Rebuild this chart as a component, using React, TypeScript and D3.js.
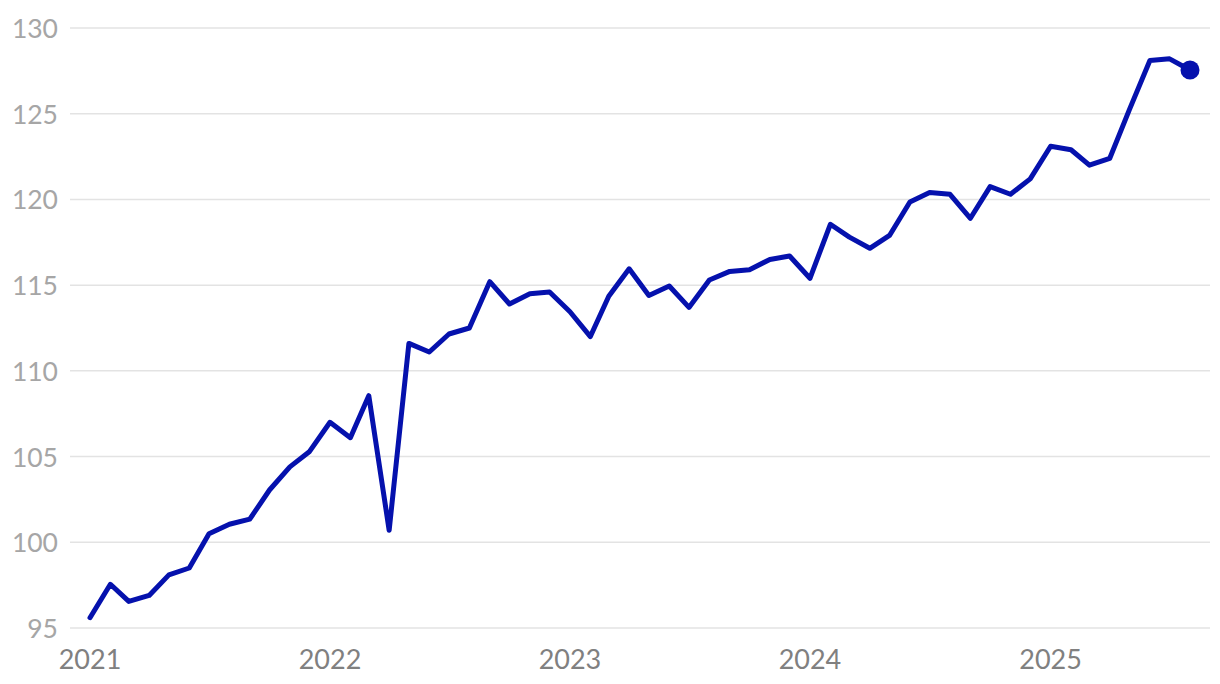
import React from "react";
import * as d3 from "d3";

const startMonth = "2021-01";
const values: number[] = [
  95.6, 97.55, 96.55, 96.9, 98.1, 98.5, 100.5, 101.05, 101.35, 103.05, 104.4, 105.3,
  107.0, 106.1, 108.55, 100.7, 111.6, 111.1, 112.15, 112.5, 115.2, 113.9, 114.5, 114.6,
  113.45, 112.0, 114.35, 115.95, 114.4, 114.95, 113.7, 115.3, 115.8, 115.9, 116.5, 116.7,
  115.4, 118.55, 117.8, 117.15, 117.9, 119.85, 120.4, 120.3, 118.9, 120.75, 120.3, 121.2,
  123.1, 122.9, 122.0, 122.4, 125.25, 128.1, 128.2, 127.55,
];
const yTicks: number[] = [95, 100, 105, 110, 115, 120, 125, 130];
const xTickYears: number[] = [2021, 2022, 2023, 2024, 2025];

const W = 1220;
const H = 684;
const LINE_COLOR = "#0511ad";

export default function App() {
  const parse = d3.timeParse("%Y-%m");
  const start = parse(startMonth) as Date;
  const dates = values.map((_, i) => d3.timeMonth.offset(start, i));
  const data = values.map((v, i) => ({ date: dates[i], value: v }));

  const x = d3
    .scaleTime()
    .domain([dates[0], dates[dates.length - 1]])
    .range([90, 1190]);
  const y = d3.scaleLinear().domain([95, 130]).range([628, 28]);

  const line = d3
    .line<{ date: Date; value: number }>()
    .x((d) => x(d.date))
    .y((d) => y(d.value));

  const last = data[data.length - 1];
  const font = "Lato, 'Open Sans', sans-serif";

  return (
    <svg
      width={W}
      height={H}
      style={{ position: "absolute", left: 0, top: 0, background: "#fff" }}
    >
      {yTicks.map((t) => (
        <g key={t}>
          <line x1={70} x2={1210} y1={y(t)} y2={y(t)} stroke="#e3e3e3" strokeWidth={1.5} />
          <text
            x={58}
            y={y(t)}
            textAnchor="end"
            dominantBaseline="central"
            fontFamily={font}
            fontSize={26.5}
            fill="#a6a6a6"
          >
            {t}
          </text>
        </g>
      ))}
      {xTickYears.map((yr) => (
        <text
          key={yr}
          x={x(new Date(yr, 0, 1))}
          y={669}
          textAnchor="middle"
          fontFamily={font}
          fontSize={27}
          fill="#808080"
        >
          {yr}
        </text>
      ))}
      <path
        d={line(data) || ""}
        fill="none"
        stroke={LINE_COLOR}
        strokeWidth={5}
        strokeLinejoin="round"
        strokeLinecap="round"
      />
      <circle cx={x(last.date)} cy={y(last.value)} r={9.5} fill={LINE_COLOR} />
    </svg>
  );
}
